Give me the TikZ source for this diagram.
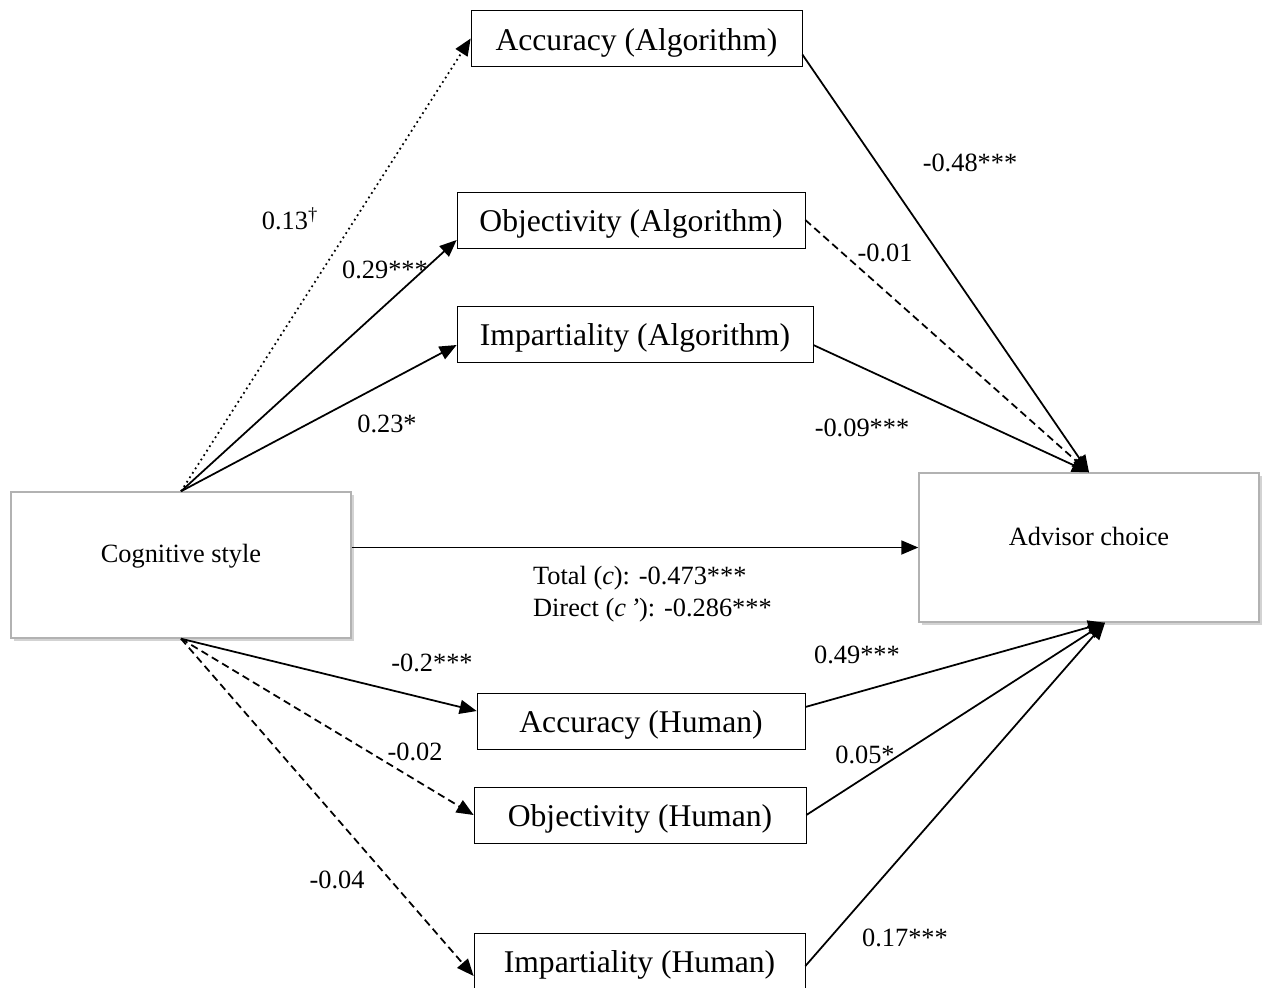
\documentclass[tikz,border=0pt]{standalone}
\usepackage{fontspec}
\setmainfont{Liberation Serif}
\usepackage{tikz}
\usetikzlibrary{arrows.meta,shadows}
\tikzstyle{med} = [draw=black, fill=white, minimum height=1.12cm, inner sep=0pt, text height=0.62cm, text depth=0.15cm, font={\fontsize{18}{21}\selectfont}]
\tikzstyle{main} = [draw=black!30, fill=white, thick, drop shadow={shadow xshift=0.06cm, shadow yshift=-0.06cm, opacity=0.35}, inner sep=0pt, text depth=0.45cm, font={\fontsize{15}{18}\selectfont}]
\tikzstyle{coef} = [font={\fontsize{15}{18}\selectfont}, inner sep=1pt]
\tikzstyle{path} = [line width=1pt, -{Triangle[length=0.34cm, width=0.28cm]}]
\tikzstyle{ns} = [dash pattern=on 0.15cm off 0.09cm]

\begin{document}
\begin{tikzpicture}
  \useasboundingbox (0,0) rectangle (25.26,-19.74);
  \node[main, minimum width=6.8cm, minimum height=2.92cm](cog) at (3.62,-11.30){Cognitive style};
  \node[main, minimum width=6.8cm, minimum height=2.98cm](adv) at (21.78,-10.95){Advisor choice};
  \node[med, minimum width=6.62cm](accalg) at (12.73,-0.77){Accuracy (Algorithm)};
  \node[med, minimum width=6.96cm](objalg) at (12.62,-4.40){Objectivity (Algorithm)};
  \node[med, minimum width=7.12cm](impalg) at (12.70,-6.68){Impartiality (Algorithm)};
  \node[med, minimum width=6.56cm](acchum) at (12.82,-14.42){Accuracy (Human)};
  \node[med, minimum width=6.64cm](objhum) at (12.80,-16.30){Objectivity (Human)};
  \node[med, minimum width=6.62cm](imphum) at (12.79,-19.22){Impartiality (Human)};
  % a paths
  \draw[path,dotted](cog.north)--(accalg.west);
  \draw[path](cog.north)--([yshift=-0.4cm]objalg.west);
  \draw[path](cog.north)--([yshift=-0.22cm]impalg.west);
  \draw[path](cog.south)--([yshift=0.2cm]acchum.west);
  \draw[path,ns](cog.south)--(objhum.west);
  \draw[path,ns](cog.south)--([yshift=-0.3cm]imphum.west);
  % b paths
  \draw[path]([yshift=-0.32cm]accalg.east)--(adv.north);
  \draw[path,ns](objalg.east)--(adv.north);
  \draw[path]([yshift=-0.22cm]impalg.east)--(adv.north);
  \draw[path]([yshift=0.28cm]acchum.east)--([xshift=0.32cm]adv.south);
  \draw[path](objhum.east)--([xshift=0.32cm]adv.south);
  \draw[path]([yshift=-0.1cm]imphum.east)--([xshift=0.32cm]adv.south);
  % c path
  \draw[path](cog.east |- adv.west)--(adv.west);
  % coefficients
  \node[coef](c1) at (5.80,-4.38){0.13\textsuperscript{\textdagger}};
  \node[coef](c2) at (7.70,-5.40){0.29***};
  \node[coef](c3) at (7.74,-8.48){0.23*};
  \node[coef](c4) at (8.64,-13.26){-0.2***};
  \node[coef](c5) at (8.30,-15.04){-0.02};
  \node[coef](c6) at (6.74,-17.60){-0.04};
  \node[coef](c7) at (19.40,-3.26){-0.48***};
  \node[coef](c8) at (17.70,-5.06){-0.01};
  \node[coef](c9) at (17.24,-8.56){-0.09***};
  \node[coef](c10) at (17.14,-13.10){0.49***};
  \node[coef](c11) at (17.30,-15.10){0.05*};
  \node[coef](c12) at (18.10,-18.76){0.17***};
  \node[coef, anchor=west, align=left](tot) at (10.62,-11.88){Total (\textit{c}): -0.473***\\Direct (\textit{c\,’}): -0.286***};
\end{tikzpicture}
\end{document}
